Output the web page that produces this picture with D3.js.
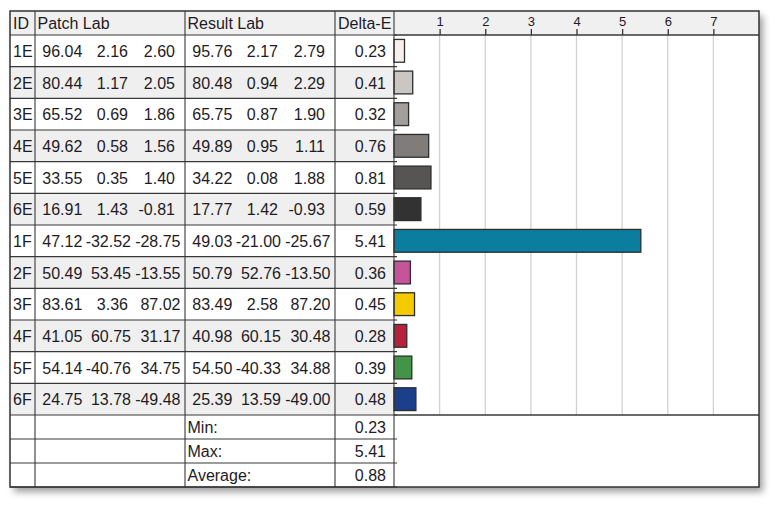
<!DOCTYPE html>
<html>
<head>
<meta charset="utf-8">
<script src="https://cdn.jsdelivr.net/npm/d3@7"></script>
<style>
  html, body { margin: 0; padding: 0; background: #fff; }
  svg { display: block; }
  text { font-family: "Liberation Sans", Arial, sans-serif; fill: #1e1b26; }
</style>
</head>
<body>
<svg id="chart" width="770" height="505"></svg>
<script>
// ---- data ----
const ids = ["1E","2E","3E","4E","5E","6E","1F","2F","3F","4F","5F","6F"];
const patchL = [96.04, 80.44, 65.52, 49.62, 33.55, 16.91, 47.12, 50.49, 83.61, 41.05, 54.14, 24.75];
const patchA = [2.16, 1.17, 0.69, 0.58, 0.35, 1.43, -32.52, 53.45, 3.36, 60.75, -40.76, 13.78];
const patchB = [2.60, 2.05, 1.86, 1.56, 1.40, -0.81, -28.75, -13.55, 87.02, 31.17, 34.75, -49.48];
const resultL = [95.76, 80.48, 65.75, 49.89, 34.22, 17.77, 49.03, 50.79, 83.49, 40.98, 54.50, 25.39];
const resultA = [2.17, 0.94, 0.87, 0.95, 0.08, 1.42, -21.00, 52.76, 2.58, 60.15, -40.33, 13.59];
const resultB = [2.79, 2.29, 1.90, 1.11, 1.88, -0.93, -25.67, -13.50, 87.20, 30.48, 34.88, -49.00];
const deltaE = [0.23, 0.41, 0.32, 0.76, 0.81, 0.59, 5.41, 0.36, 0.45, 0.28, 0.39, 0.48];
const barColors = ["#f8efed","#c9c6c4","#a19e9b","#7f7c7a","#575553","#333233",
                   "#0b7ea0","#c6549a","#f4ca00","#b8213b","#449447","#1b3f8b"];
const headers = ["ID", "Patch Lab", "Result Lab", "Delta-E"];
const summaryLabels = ["Min:", "Max:", "Average:"];
const summaryValues = [0.23, 5.41, 0.88];
const tickValues = [1, 2, 3, 4, 5, 6, 7];

// ---- layout ----
const svg = d3.select("#chart");
const L = 10, T = 11, R = 759, B = 487;
const colX = [10, 35, 185, 335, 394];
const headB = 35, bodyB = 415;
const sumH = (B - bodyB) / summaryLabels.length;
const lineCol = "#383838";
const fs = 16;

const defs = svg.append("defs");
const f = defs.append("filter").attr("id", "shadow")
  .attr("x", "-5%").attr("y", "-5%").attr("width", "115%").attr("height", "120%");
f.append("feDropShadow").attr("dx", 4).attr("dy", 5).attr("stdDeviation", 3.5)
  .attr("flood-color", "#000").attr("flood-opacity", 0.38);

svg.append("rect").attr("x", L).attr("y", T).attr("width", R - L).attr("height", B - T)
  .attr("fill", "#fff").attr("filter", "url(#shadow)");

const y = d3.scaleBand().domain(ids).range([headB, bodyB]);
const yBar = d3.scaleBand().domain(ids).range([headB, bodyB]).paddingInner(0.28).paddingOuter(0.14);
const x = d3.scaleLinear().domain([0, 8]).range([colX[4], R]);

// header backgrounds
svg.append("rect").attr("x", L).attr("y", T).attr("width", R - L).attr("height", headB - T).attr("fill", "#f0f0f0");

// row shading
svg.append("g").selectAll("rect").data(ids.filter((d, i) => i % 2 === 1)).join("rect")
  .attr("x", L).attr("y", d => y(d)).attr("width", colX[4] - L).attr("height", y.bandwidth())
  .attr("fill", "#efefef");

// grid lines
svg.append("g").selectAll("line").data(tickValues).join("line")
  .attr("x1", d => x(d)).attr("x2", d => x(d)).attr("y1", headB).attr("y2", bodyB)
  .attr("stroke", "#d2d2d2").attr("stroke-width", 1.3);

// bars
svg.append("g").selectAll("rect").data(ids).join("rect")
  .attr("x", x(0)).attr("y", d => yBar(d))
  .attr("width", (d, i) => x(deltaE[i]) - x(0))
  .attr("height", yBar.bandwidth())
  .attr("fill", (d, i) => barColors[i])
  .attr("stroke", "#2e2e2e").attr("stroke-width", 1.3);

// axis
const axis = svg.append("g").attr("transform", `translate(0,${headB})`)
  .call(d3.axisTop(x).tickValues(tickValues).tickSize(6).tickPadding(3).tickFormat(d3.format("d")));
axis.select(".domain").remove();
axis.selectAll(".tick line").attr("stroke", "#333").attr("stroke-width", 1.3);
axis.selectAll(".tick text").attr("font-size", 13).attr("fill", "#1e1b26")
  .attr("font-family", "'Liberation Sans', Arial, sans-serif");

// table grid lines
const g = svg.append("g").attr("stroke", lineCol).attr("stroke-width", 1.1).attr("fill", "none");
const hY = ids.map(d => y(d)).concat([bodyB]).concat(summaryLabels.map((d, i) => bodyB + sumH * (i + 1)));
g.selectAll("line.h").data(hY).join("line").attr("class", "h")
  .attr("x1", L).attr("x2", colX[4] + 3).attr("y1", d => d).attr("y2", d => d);
g.append("line").attr("x1", colX[4]).attr("x2", R).attr("y1", headB).attr("y2", headB).attr("stroke-width", 1.4);
g.append("line").attr("x1", colX[4]).attr("x2", R).attr("y1", bodyB).attr("y2", bodyB).attr("stroke-width", 1.4);
g.selectAll("line.v").data(colX.slice(1)).join("line").attr("class", "v")
  .attr("x1", d => d).attr("x2", d => d).attr("y1", T).attr("y2", B);
svg.append("rect").attr("x", L).attr("y", T).attr("width", R - L).attr("height", B - T)
  .attr("fill", "none").attr("stroke", "#333").attr("stroke-width", 1.5);

// header text
const headerX = [13, 37.5, 187.5, 338];
svg.append("g").selectAll("text").data(headers).join("text")
  .attr("x", (d, i) => headerX[i]).attr("y", (headB + T) / 2 + 5.6)
  .attr("font-size", fs).text(d => d);

// body text
const loc = d3.formatLocale({decimal: ".", thousands: ",", grouping: [3], currency: ["", ""], minus: "-"});
const fmt = loc.format(".2f");
const body = svg.append("g").attr("font-size", fs);
const baseY = d => y(d) + y.bandwidth() / 2 + 6.1;
body.selectAll("text.id").data(ids).join("text").attr("class", "id")
  .attr("x", 13).attr("y", baseY).text(d => d);

function labCols(c, A, Bv, C) {
  body.selectAll(null).data(ids).join("text")
    .attr("x", c + 47.3).attr("y", baseY).attr("text-anchor", "end")
    .text((d, i) => fmt(A[i]));
  body.selectAll(null).data(ids).join("text")
    .attr("x", (d, i) => c + (Math.abs(Bv[i]) >= 10 ? 96 : 93)).attr("y", baseY).attr("text-anchor", "end")
    .text((d, i) => fmt(Bv[i]));
  body.selectAll(null).data(ids).join("text")
    .attr("x", (d, i) => c + (Math.abs(C[i]) >= 10 ? 145.5 : 140)).attr("y", baseY).attr("text-anchor", "end")
    .text((d, i) => fmt(C[i]));
}
labCols(colX[1], patchL, patchA, patchB);
labCols(colX[2], resultL, resultA, resultB);

body.selectAll(null).data(ids).join("text")
  .attr("x", 386).attr("y", baseY).attr("text-anchor", "end")
  .text((d, i) => fmt(deltaE[i]));

// summary rows
const sg = svg.append("g").attr("font-size", fs);
sg.selectAll(null).data(summaryLabels).join("text")
  .attr("x", 187.5).attr("y", (d, i) => bodyB + sumH * i + sumH / 2 + 6)
  .text(d => d);
sg.selectAll(null).data(summaryValues).join("text")
  .attr("x", 386).attr("y", (d, i) => bodyB + sumH * i + sumH / 2 + 6)
  .attr("text-anchor", "end").text(d => fmt(d));
</script>
</body>
</html>
